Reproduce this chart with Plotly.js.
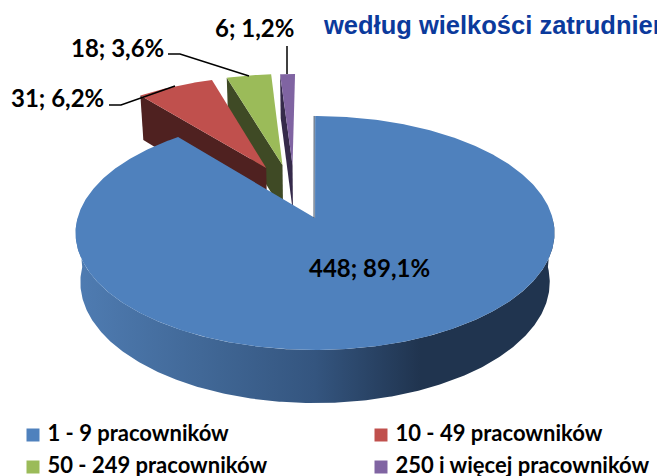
<!DOCTYPE html>
<html><head><meta charset="utf-8">
<script src="https://cdn.plot.ly/plotly-3.0.1.min.js"></script>
<style>html,body{margin:0;padding:0;background:#fff;overflow:hidden}</style>
</head><body><div id="chart" style="width:657px;height:476px"></div>
<script>
// ---- data ----
const categories = ['1 - 9 pracowników','10 - 49 pracowników','50 - 249 pracowników','250 i więcej pracowników'];
const counts = [448, 31, 18, 6];
const titleText = 'według wielkości zatrudnienia';

// ---- styles ----
const topColors = ['#4f81bd','#c0504d','#9bbb59','#8064a2'];
const wallColors = ['#20344f','#4f2120','#3f4a25','#352a4a'];
const labelFont = 'Lato, Carlito, sans-serif';

// ---- projection of the tilted disc onto the page ----
const view = {ox:316, oy:218, A:237.5, B:115.08, k:0.128, H:50, e:0.02};
const shifts = [[-0.004,0],[-0.222,0.46],[-0.15,0.489],[-0.105,0.489]];
const project = (u,v,low) => {
  const w = 1 + view.k*v + (low ? view.e : 0);
  return [view.ox + view.A*u/w, view.oy + (-view.B*v + (low ? view.H : 0))/w];
};
const total = counts.reduce((a,b)=>a+b,0);
const arc = (i,a0,a1,low) => {
  const pts = [], n = Math.max(2, Math.ceil(Math.abs(a1-a0)/0.01));
  for (let j=0;j<=n;j++){
    const a = a0+(a1-a0)*j/n;
    pts.push(project(shifts[i][0]+Math.sin(a), shifts[i][1]+Math.cos(a), low));
  }
  return pts;
};
const poly = (pts, color, extra) => Object.assign({
  type:'scatter', mode:'lines', x:pts.map(p=>p[0]), y:pts.map(p=>p[1]),
  fill:'toself', fillcolor:color, line:{width:0}, hoverinfo:'skip', showlegend:false
}, extra||{});

let cum = 0;
const spans = counts.map(c => { const s=[cum/total*2*Math.PI, (cum+c)/total*2*Math.PI]; cum+=c; return s; });
const traces = [];
// small slices, back to front
[3,2,1].forEach(i => {
  const [a0,a1] = spans[i];
  const apexTop = project(shifts[i][0],shifts[i][1],false);
  const apexLow = project(shifts[i][0],shifts[i][1],true);
  const outTop = arc(i,a0,a0,false)[0];
  const outLow = arc(i,a0,a0,true)[0];
  traces.push(poly([outTop,apexTop,apexLow,outLow,outTop], wallColors[i]));
  traces.push(poly([apexTop,...arc(i,a0,a1,false),apexTop], topColors[i]));
});
// large slice: curved wall with shading, then top
const wallTop = arc(0,Math.PI/2,3*Math.PI/2,false);
const wallLow = arc(0,Math.PI/2,3*Math.PI/2,true).reverse();
traces.push(poly([...wallTop,...wallLow,wallTop[0]], '#20344f', {
  fillgradient:{type:'horizontal', colorscale:[[0,'#4f7cb2'],[0.3,'#3f6593'],[0.5,'#34557f'],[0.72,'#20344f'],[1,'#20344f']]}
}));
const apex0 = project(shifts[0][0],shifts[0][1],false);
traces.push(poly([apex0,...arc(0,spans[0][0],spans[0][1],false),apex0], topColors[0]));
// thin dark edge at the start of the large slice
const edge = [apex0, arc(0,0,0,false)[0]];
traces.push({type:'scatter',mode:'lines',x:edge.map(p=>p[0]-1),y:edge.map(p=>p[1]),line:{color:'#33465f',width:1},hoverinfo:'skip',showlegend:false});

// leader lines
const leaders = [
  {x:[109,121,175],y:[105,105,86]},
  {x:[168,180,249],y:[54,54,76]},
  {x:[287,287],y:[46,74]}
];
leaders.forEach(l => traces.push({type:'scatter',mode:'lines',x:l.x,y:l.y,line:{color:'#000',width:1.5},hoverinfo:'skip',showlegend:false}));

// legend rows
const keyX = [33,381,33,381], keyY = [435,435,467,467];
categories.forEach((c,i) => traces.push({
  type:'scatter', mode:'markers+text', x:[keyX[i]], y:[keyY[i]], text:['\u00a0'+c], textposition:'middle right',
  name:c, marker:{symbol:'square',size:13,color:topColors[i]},
  textfont:{family:labelFont,size:22,color:'#000',weight:700}, cliponaxis:false, hoverinfo:'skip', showlegend:false
}));

const labelText = i => counts[i]+'; '+(counts[i]/total*100).toFixed(1).replace('.',',')+'%';
const labelPos = [[369,267],[57,97],[117,47],[254,27]];
const annotations = counts.map((c,i)=>({
  xref:'x',yref:'y',x:labelPos[i][0],y:labelPos[i][1],text:'<b>'+labelText(i)+'</b>',showarrow:false,
  font:{family:labelFont,size:24,color:'#000'}
}));
annotations.push({xref:'x',yref:'y',x:321,y:25,xanchor:'left',text:'<b>'+titleText+'</b>',showarrow:false,
  font:{family:'Liberation Sans, Arial, sans-serif',size:25.5,color:'#0b3a9c'}});

Plotly.newPlot('chart',traces,{
  width:657,height:476,margin:{l:0,r:0,t:0,b:0},paper_bgcolor:'#fff',plot_bgcolor:'#fff',showlegend:false,
  xaxis:{range:[0,657],visible:false,fixedrange:true},
  yaxis:{range:[476,0],visible:false,fixedrange:true},
  annotations
},{displayModeBar:false,staticPlot:true});
</script></body></html>
